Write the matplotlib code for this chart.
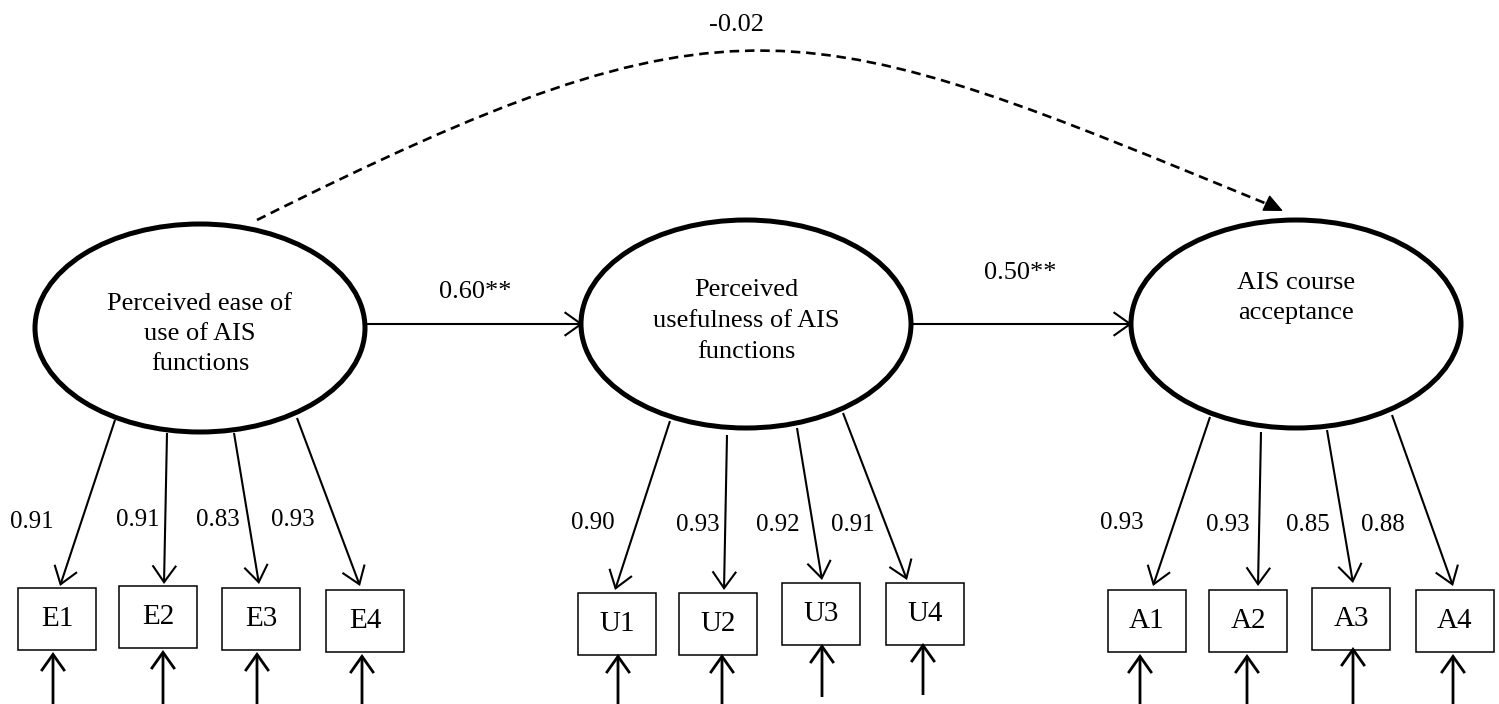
import matplotlib
matplotlib.use("Agg")
import matplotlib.pyplot as plt
from matplotlib.patches import Ellipse, Rectangle, FancyArrowPatch, PathPatch
from matplotlib.path import Path

# ---- data ----
latent_labels = ["Perceived ease of\nuse of AIS\nfunctions",
                 "Perceived\nusefulness of AIS\nfunctions",
                 "AIS course\nacceptance"]
indicator_names = [["E1", "E2", "E3", "E4"],
                   ["U1", "U2", "U3", "U4"],
                   ["A1", "A2", "A3", "A4"]]
loadings = [["0.91", "0.91", "0.83", "0.93"],
            ["0.90", "0.93", "0.92", "0.91"],
            ["0.93", "0.93", "0.85", "0.88"]]
path_coefs = ["0.60**", "0.50**"]
direct_coef = "-0.02"

# ---- layout (pixel coordinates) ----
ell_centers = [(200, 328), (746, 324), (1296, 324)]
ell_w, ell_h = 330, 208
ell_text_y = [334, 321, 298]

box_centers = [
    [(57, 619), (158, 617), (261, 619), (365, 621)],
    [(617, 624), (718, 624), (821, 614), (925, 614)],
    [(1147, 621), (1248, 621), (1351, 619), (1455, 621)],
]
box_w, box_h = 78, 62

load_arrows = [
    [((115, 420), (60, 586)), ((167, 433), (164, 584)), ((234, 433), (259, 584)), ((297, 418), (360, 586))],
    [((670, 421), (615, 590)), ((727, 435), (724, 590)), ((797, 428), (822, 580)), ((843, 413), (907, 580))],
    [((1210, 417), (1153, 586)), ((1261, 432), (1258, 586)), ((1327, 430), (1353, 583)), ((1392, 415), (1453, 586))],
]
load_label_pos = [
    [(32, 522), (138, 520), (218, 520), (293, 520)],
    [(593, 523), (698, 525), (778, 525), (853, 525)],
    [(1122, 523), (1228, 525), (1308, 525), (1383, 525)],
]
err_arrows = [
    [(53, 706, 652), (163, 706, 650), (257, 706, 652), (362, 706, 654)],
    [(618, 706, 654), (722, 706, 654), (822, 697, 644), (923, 695, 643)],
    [(1140, 706, 654), (1247, 706, 654), (1353, 706, 647), (1453, 706, 654)],
]

fig = plt.figure(figsize=(14.99, 7.04), dpi=100)
ax = fig.add_axes([0, 0, 1, 1])
ax.set_xlim(0, 1499)
ax.set_ylim(704, 0)
ax.axis("off")

serif = ["Liberation Serif", "DejaVu Serif"]

def arrow(p0, p1, lw=1.5):
    a = FancyArrowPatch(p0, p1, arrowstyle="->,head_length=12,head_width=8.5",
                        mutation_scale=1, lw=lw, color="black",
                        shrinkA=0, shrinkB=0, joinstyle="miter", capstyle="butt")
    ax.add_patch(a)

# latent ellipses
for (cx, cy), lab, ty in zip(ell_centers, latent_labels, ell_text_y):
    ax.add_patch(Ellipse((cx, cy), ell_w, ell_h, fill=False, lw=3.6, ec="black"))
    ax.text(cx, ty, lab, ha="center", va="center", fontsize=19,
            family=serif, linespacing=1.5)

# indicators
for g in range(3):
    for i in range(4):
        bx, by = box_centers[g][i]
        ax.add_patch(Rectangle((bx - box_w / 2, by - box_h / 2), box_w, box_h,
                               fill=False, lw=1.1, ec="black"))
        ax.text(bx, by, indicator_names[g][i], ha="center", va="center",
                fontsize=21, family=serif)
        p0, p1 = load_arrows[g][i]
        arrow(p0, p1)
        lx, ly = load_label_pos[g][i]
        ax.text(lx, ly, loadings[g][i], ha="center", va="center",
                fontsize=18, family=serif)
        ex, y0, y1 = err_arrows[g][i]
        arrow((ex, y0), (ex, y1), lw=2.0)

# structural paths
arrow((365, 324), (583, 324))
arrow((912, 324), (1132, 324))
ax.text(475, 292, path_coefs[0], ha="center", va="center", fontsize=19, family=serif)
ax.text(1020, 273, path_coefs[1], ha="center", va="center", fontsize=19, family=serif)

# dashed direct path
verts = [(257, 220), (737, -20), (802, 13), (1272, 206)]
codes = [Path.MOVETO, Path.CURVE4, Path.CURVE4, Path.CURVE4]
ax.add_patch(PathPatch(Path(verts, codes), fill=False, lw=1.9, ec="black",
                       linestyle=(0, (3.6, 2.2)), capstyle="butt"))
head = FancyArrowPatch((1266, 203), (1283, 211),
                       arrowstyle="-|>,head_length=12,head_width=5.5",
                       mutation_scale=1, lw=1.0, color="black",
                       shrinkA=0, shrinkB=0)
ax.add_patch(head)
ax.text(737, 25, direct_coef, ha="center", va="center", fontsize=19, family=serif)

fig.savefig("out.png", dpi=100)
